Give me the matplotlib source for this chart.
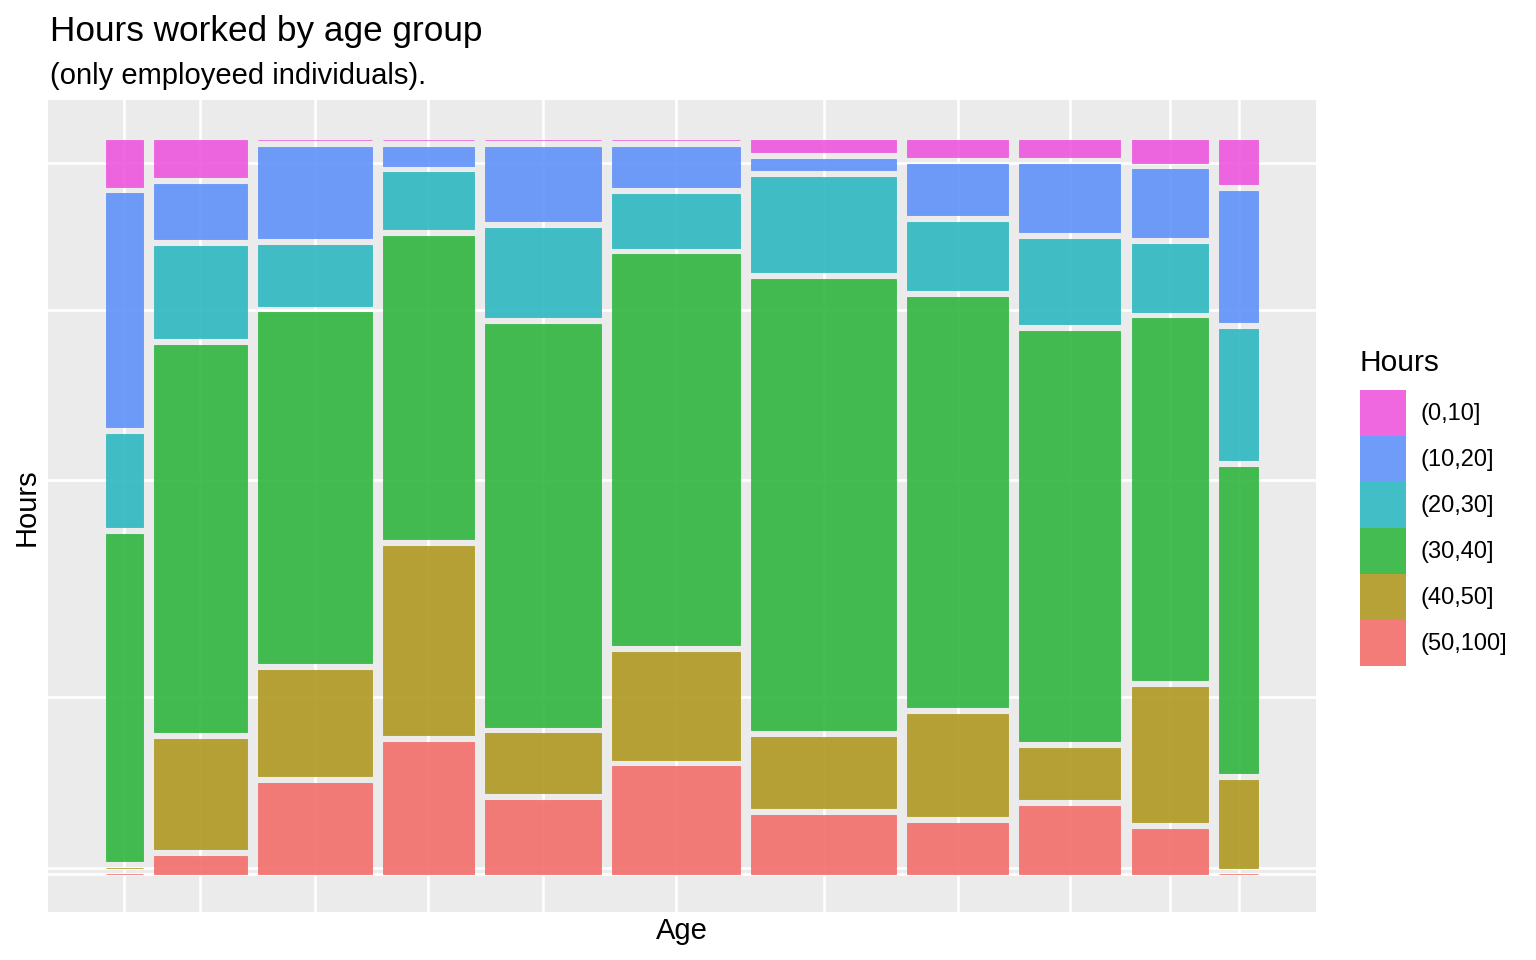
import numpy as np
import matplotlib.pyplot as plt
from matplotlib.patches import Patch

plt.rcParams['font.family'] = ['Liberation Sans', 'DejaVu Sans']

# age groups (x axis labels are hidden in the original)
age_groups = ["(15,20]", "(20,25]", "(25,30]", "(30,35]", "(35,40]", "(40,45]",
              "(45,50]", "(50,55]", "(55,60]", "(60,65]", "(65,70]"]
hour_levels = ["(0,10]", "(10,20]", "(20,30]", "(30,40]", "(40,50]", "(50,100]"]

# number of people per hours bucket, one value per age group
h_0_10 = [1, 2, 0, 0, 0, 0, 1, 1, 1, 1, 1]
h_10_20 = [5, 3, 6, 1, 5, 3, 1, 3, 4, 3, 3]
h_20_30 = [2, 5, 4, 3, 6, 4, 8, 4, 5, 3, 3]
h_30_40 = [7, 21, 23, 16, 27, 29, 38, 24, 24, 16, 7]
h_40_50 = [0, 6, 7, 10, 4, 8, 6, 6, 3, 6, 2]
h_50_100 = [0, 1, 6, 7, 5, 8, 5, 3, 4, 2, 0]

hour_colors = ["#EE57DD", "#6091F9", "#2DB8C0", "#2FB53F", "#AE9820", "#F26D69"]

counts = np.array([h_0_10, h_10_20, h_20_30, h_30_40, h_40_50, h_50_100], dtype=float)
col_tot = counts.sum(axis=0)
n_age = len(age_groups)
n_hours = len(hour_levels)

# mosaic layout: widths ~ group size, heights ~ share within group
gap_x = 0.0097
gap_y = 0.0091
widths = col_tot / col_tot.sum() * (1 - gap_x * (n_age - 1))
lefts = np.concatenate([[0], np.cumsum(widths[:-1])]) + gap_x * np.arange(n_age)
props = counts / col_tot
usable = 1 - gap_y * (n_hours - 1)

fig = plt.figure(figsize=(15.36, 9.6), dpi=100)
ax = fig.add_axes([48 / 1536, 48 / 960, 1268 / 1536, 812 / 960])
ax.set_facecolor("#EBEBEB")

alpha = 0.9
bottoms = np.zeros(n_age)
first_col_centers = []
for k in range(n_hours - 1, -1, -1):
    h = props[k] * usable
    ax.bar(lefts, h, width=widths, bottom=bottoms, align='edge',
           color=hour_colors[k], alpha=alpha, edgecolor=hour_colors[k],
           linewidth=0.6, zorder=2)
    first_col_centers.append(bottoms[0] + h[0] / 2)
    bottoms = bottoms + h + gap_y

ax.set_xticks(lefts + widths / 2)
ax.set_yticks(first_col_centers)
ax.grid(True, color="white", linewidth=1.9)
ax.set_axisbelow(True)
ax.tick_params(length=0, labelbottom=False, labelleft=False)
for s in ax.spines.values():
    s.set_visible(False)
ax.set_xlim(-0.05, 1.05)
ax.set_ylim(-0.0513, 1.0545)

fig.text(682 / 1536, 1 - 931 / 960, "Age", fontsize=21, ha='center', va='center')
fig.text(27 / 1536, 1 - 507 / 960, "Hours", fontsize=21, ha='center', va='center',
         rotation=90)

fig.text(50 / 1536, 1 - 41 / 960, "Hours worked by age group", fontsize=25.3,
         va='baseline', ha='left')
fig.text(50 / 1536, 1 - 84 / 960, "(only employeed individuals).", fontsize=21,
         va='baseline', ha='left')

# legend: title drawn separately so the gap above the keys can be matched
fig.text(1360 / 1536, 1 - 363 / 960, "Hours", fontsize=21.5, ha='left', va='center')
handles = [Patch(facecolor=c, edgecolor='none', alpha=alpha) for c in hour_colors]
leg = fig.legend(handles, hour_levels, loc='upper left',
                 bbox_to_anchor=(1360 / 1536, 1 - 390 / 960), frameon=False,
                 fontsize=17, handlelength=1.95, handleheight=2.62,
                 labelspacing=0, handletextpad=0.6, borderpad=0, borderaxespad=0)

fig.savefig("out.png", dpi=100)
